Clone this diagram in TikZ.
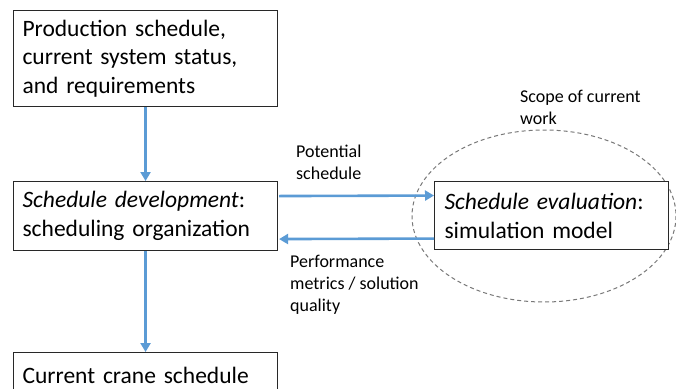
\documentclass[tikz,border=0pt]{standalone}
\usepackage{fontspec}
\setmainfont{Carlito}
\usetikzlibrary{arrows.meta,calc}
\definecolor{flow}{RGB}{91,155,213}
\definecolor{boxline}{RGB}{40,40,40}
\definecolor{scopeline}{RGB}{120,120,120}
\tikzset{
  box/.style={draw=boxline, line width=1.1pt, align=left, inner sep=0pt, anchor=north west,
    font=\fontsize{23.5}{28.8}\selectfont},
  lbl/.style={align=left, inner sep=0pt, anchor=west, font=\fontsize{18}{21.8}\selectfont},
  arr/.style={draw=flow, line width=2.6pt, -{Triangle[length=9pt,width=10pt]}}
}
\begin{document}
\begin{tikzpicture}[x=1pt,y=-1pt]
\useasboundingbox (0,0) rectangle (676,388);
\clip (0,0) rectangle (676,388);
\fill[white] (0,0) rectangle (676,388);
% scope ellipse
\draw[scopeline, line width=1pt, dash pattern=on 4pt off 3pt] (544,216) ellipse [x radius=132, y radius=86];
% boxes
\node[box, minimum width=262pt, minimum height=96pt, text width=246pt, inner xsep=9pt] (b1) at (13,10)
  {Production schedule,\\current system status,\\and requirements};
\node[box, minimum width=262pt, minimum height=69pt, text width=246pt, inner xsep=9pt] (b2) at (13,181)
  {\textit{Schedule development}:\\scheduling organization};
\node[box, fill=white, minimum width=234pt, minimum height=68pt, text width=214pt, inner xsep=10pt] (b3) at (434,181)
  {\textit{Schedule evaluation}:\\simulation model};
\node[box, minimum width=262pt, minimum height=46pt, text width=246pt, inner xsep=9pt, anchor=north west] (b4) at (13,352)
  {Current crane schedule};
% labels
\node[lbl] (lpot) at (296,162) {Potential\\schedule};
\node[lbl] (lperf) at (290,285) {Performance\\metrics / solution\\quality};
\node[lbl] (lscope) at (520,107) {Scope of current\\work};
% connectors
\draw[arr] (b1.south) -- (b2.north);
\draw[arr] (b2.south) -- (b4.north);
\draw[arr] ($(b2.east)+(1,-20)$) -- ($(b3.west)+(0,-20)$);
\draw[arr] ($(b3.west)+(0,23)$) -- ($(b2.east)+(1,23)$);
\end{tikzpicture}
\end{document}
